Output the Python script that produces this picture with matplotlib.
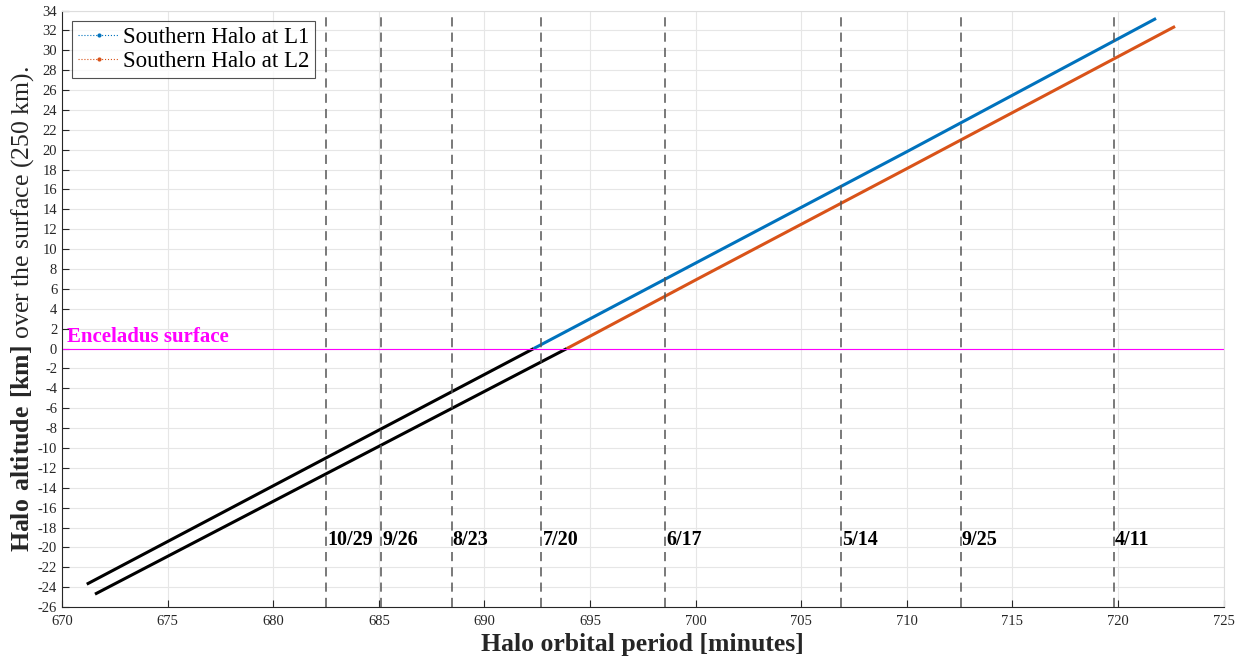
import numpy as np
import matplotlib
matplotlib.use("Agg")
import matplotlib.pyplot as plt

plt.rcParams['font.family'] = ['Liberation Serif', 'DejaVu Serif']
plt.rcParams['mathtext.fontset'] = 'custom'
plt.rcParams['mathtext.rm'] = 'Liberation Serif'
plt.rcParams['mathtext.bf'] = 'Liberation Serif:bold'
plt.rcParams['axes.unicode_minus'] = False

# Halo orbits (period [min], altitude [km])
l1_period = [671.17, 682.5, 692.6, 700.0, 710.0, 721.8]
l1_alt = [-23.7, -11.0, 0.3, 8.6, 19.8, 33.2]
l2_period = [671.56, 682.5, 693.9, 700.0, 710.0, 722.7]
l2_alt = [-24.7, -12.6, 0.0, 6.9, 18.1, 32.4]

# Dates marked by dashed vertical lines
date_periods = [682.5, 685.1, 688.45, 692.7, 698.55, 706.9, 712.55, 719.8]
date_labels = ['10/29', '9/26', '8/23', '7/20', '6/17', '5/14', '9/25', '4/11']

BLUE = '#0072BD'
ORANGE = '#D95319'


def split_at_zero(x, y):
    x = np.asarray(x, float)
    y = np.asarray(y, float)
    x0 = np.interp(0.0, y, x)
    below = y < 0
    xb = np.append(x[below], x0)
    yb = np.append(y[below], 0.0)
    xa = np.insert(x[~below], 0, x0)
    ya = np.insert(y[~below], 0, 0.0)
    return (xb, yb), (xa, ya)


fig = plt.figure(figsize=(12.41, 6.57), dpi=100)
ax = fig.add_axes([0.05, 0.076, 0.936, 0.908])

# legend handles (dotted line with dot marker, as in the original)
ax.plot([], [], ':', color=BLUE, marker='.', markersize=4, linewidth=0.8, label='Southern Halo at L1')
ax.plot([], [], ':', color=ORANGE, marker='.', markersize=4, linewidth=0.8, label='Southern Halo at L2')

for px, py, col in [(l1_period, l1_alt, BLUE), (l2_period, l2_alt, ORANGE)]:
    (xb, yb), (xa, ya) = split_at_zero(px, py)
    ax.plot(xb, yb, color='black', linewidth=2.2, solid_capstyle='butt')
    ax.plot(xa, ya, color=col, linewidth=2.2, solid_capstyle='butt')

ax.axhline(0, color='#FF00FF', linewidth=0.8)
ax.text(670.25, 0.2, 'Enceladus surface', color='#FF00FF', fontsize=15,
        fontweight='bold', ha='left', va='bottom')

for xp, lab in zip(date_periods, date_labels):
    ax.axvline(xp, color='#555555', linestyle=(0, (6, 4)), linewidth=1.1)
    ax.text(xp + 0.05, -19.3, lab, fontsize=14.5, fontweight='bold', ha='left', va='center')

ax.set_xlim(670, 725)
ax.set_ylim(-26, 34)
ax.set_xticks(np.arange(670, 726, 5))
ax.set_yticks(np.arange(-26, 35, 2))
ax.tick_params(direction='in', labelsize=10.5, length=5, top=False, right=False,
               colors='#262626')
ax.tick_params(axis='x', pad=6)
ax.grid(True, color='#e6e6e6', linewidth=0.8)
ax.set_axisbelow(True)
for s in ['top', 'right']:
    ax.spines[s].set_color('#dddddd')
for s in ['bottom', 'left']:
    ax.spines[s].set_color('#262626')

ax.set_xlabel('Halo orbital period [minutes]', fontsize=18.5, fontweight='bold',
              color='#262626', labelpad=3)
ax.set_ylabel(r'$\mathbf{Halo\ altitude\ [km]}$ over the surface (250 km).',
              fontsize=18.5, color='#262626', labelpad=1)

leg = ax.legend(loc='upper left', fontsize=16.5, frameon=True, fancybox=False,
                borderpad=0.25, handlelength=1.8, handletextpad=0.15,
                labelspacing=0.15, borderaxespad=0.45)
leg.get_frame().set_edgecolor('#262626')
leg.get_frame().set_linewidth(0.8)

fig.savefig('out.png', dpi=100)
